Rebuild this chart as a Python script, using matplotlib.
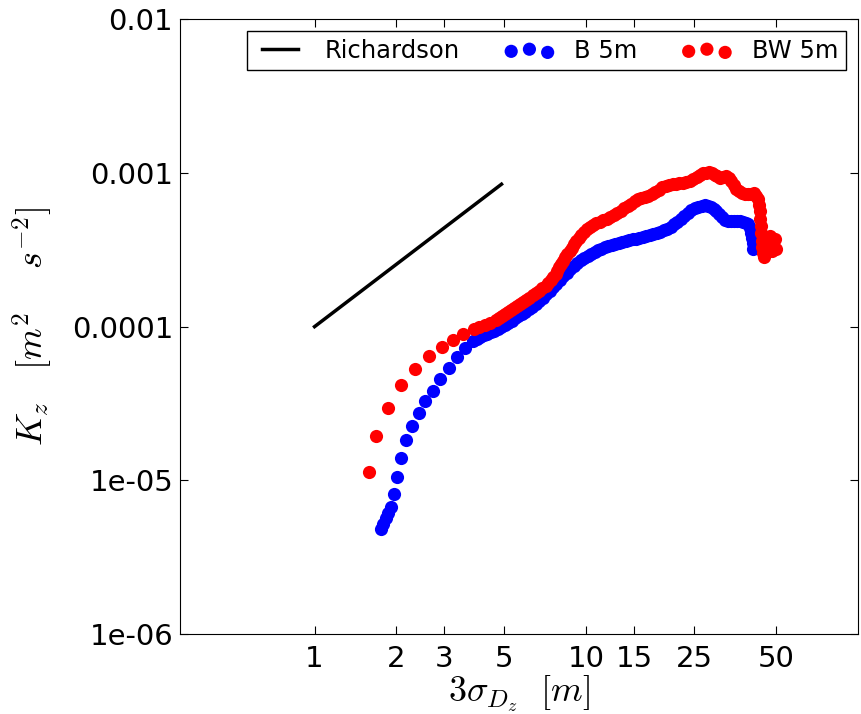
import matplotlib
matplotlib.use("Agg")
import matplotlib.pyplot as plt

# Richardson 4/3 law reference line
rich_x = [1.0, 4.88]
rich_y = [1.0e-4, 8.45e-4]

# B 5m
b_x = [1.752, 1.782, 1.827, 1.858, 1.905, 1.954, 2.016, 2.084, 2.179, 2.279,
       2.415, 2.561, 2.725, 2.904, 3.115, 3.339, 3.579, 3.840, 3.958, 4.082,
       4.204, 4.329, 4.459, 4.590, 4.727, 4.868, 5.012, 5.161, 5.314, 5.473,
       5.635, 5.803, 5.974, 6.154, 6.336, 6.525, 6.719, 6.918, 7.124, 7.336,
       7.554, 7.779, 8.010, 8.250, 8.494, 8.746, 9.005, 9.275, 9.550, 9.833,
       10.13, 10.43, 10.74, 11.05, 11.39, 11.72, 12.07, 12.43, 12.80, 13.18,
       13.57, 13.98, 14.40, 14.83, 15.26, 15.72, 16.18, 16.67, 17.16, 17.68,
       18.20, 18.74, 19.30, 19.88, 20.46, 21.07, 21.70, 22.35, 23.00, 23.69,
       24.40, 25.12, 25.87, 26.64, 27.32, 28.01, 28.72, 29.45, 30.20, 30.97,
       31.75, 32.56, 33.39, 34.23, 35.12, 36.01, 36.93, 37.86, 38.66, 39.48,
       39.97, 40.49, 40.75, 41.01, 41.18]
b_y = [4.81e-6, 5.18e-6, 5.66e-6, 6.11e-6, 6.68e-6, 8.11e-6, 1.05e-5, 1.40e-5, 1.82e-5, 2.25e-5,
       2.74e-5, 3.27e-5, 3.84e-5, 4.55e-5, 5.36e-5, 6.32e-5, 7.27e-5, 8.11e-5, 8.36e-5, 8.61e-5,
       8.81e-5, 9.01e-5, 9.21e-5, 9.42e-5, 9.66e-5, 9.93e-5, 1.02e-4, 1.05e-4, 1.09e-4, 1.13e-4,
       1.165e-4, 1.21e-4, 1.25e-4, 1.30e-4, 1.35e-4, 1.41e-4, 1.475e-4, 1.54e-4, 1.625e-4, 1.71e-4,
       1.80e-4, 1.90e-4, 2.01e-4, 2.13e-4, 2.25e-4, 2.38e-4, 2.49e-4, 2.60e-4, 2.70e-4, 2.81e-4,
       2.89e-4, 2.98e-4, 3.055e-4, 3.14e-4, 3.21e-4, 3.28e-4, 3.34e-4, 3.41e-4, 3.46e-4, 3.51e-4,
       3.56e-4, 3.62e-4, 3.66e-4, 3.70e-4, 3.74e-4, 3.78e-4, 3.82e-4, 3.87e-4, 3.93e-4, 3.99e-4,
       4.06e-4, 4.14e-4, 4.23e-4, 4.33e-4, 4.46e-4, 4.63e-4, 4.81e-4, 5.03e-4, 5.26e-4, 5.50e-4,
       5.71e-4, 5.88e-4, 6.02e-4, 6.11e-4, 6.15e-4, 6.11e-4, 6.02e-4, 5.84e-4, 5.62e-4, 5.42e-4,
       5.18e-4, 4.95e-4, 4.88e-4, 4.84e-4, 4.86e-4, 4.88e-4, 4.84e-4, 4.81e-4, 4.73e-4, 4.67e-4,
       4.39e-4, 4.08e-4, 3.78e-4, 3.51e-4, 3.21e-4]

# BW 5m
bw_x = [1.585, 1.690, 1.858, 2.084, 2.349, 2.640, 2.945, 3.237, 3.532, 3.859,
        4.031, 4.232, 4.440, 4.669, 4.786, 4.909, 5.032, 5.161, 5.291, 5.427,
        5.566, 5.706, 5.852, 5.999, 6.180, 6.363, 6.525, 6.690, 6.889, 7.096,
        7.244, 7.400, 7.554, 7.717, 7.845, 7.979, 8.111, 8.250, 8.387, 8.530,
        8.710, 8.872, 9.044, 9.196, 9.392, 9.590, 9.833, 10.08, 10.34, 10.61,
        10.92, 11.24, 11.58, 11.92, 12.28, 12.64, 13.02, 13.41, 13.80, 14.21,
        14.64, 15.08, 15.52, 15.98, 16.46, 16.95, 17.45, 17.97, 18.51, 19.05,
        19.62, 20.21, 20.81, 21.42, 22.06, 22.72, 23.39, 24.09, 24.80, 25.55,
        26.19, 26.86, 27.54, 28.24, 28.96, 29.70, 30.45, 31.22, 32.03, 32.84,
        33.53, 34.23, 34.96, 35.70, 36.61, 37.54, 38.50, 39.48, 40.49, 41.51,
        42.22, 42.93, 43.29, 43.65, 43.84, 44.02, 44.21, 44.39, 44.58, 44.76,
        45.14, 45.89, 46.68, 47.46, 48.68, 49.48, 49.90, 48.26]
bw_y = [1.13e-5, 1.93e-5, 2.96e-5, 4.17e-5, 5.34e-5, 6.41e-5, 7.34e-5, 8.24e-5, 9.01e-5, 9.64e-5,
        9.93e-5, 1.03e-4, 1.06e-4, 1.11e-4, 1.135e-4, 1.17e-4, 1.205e-4, 1.24e-4, 1.28e-4, 1.32e-4,
        1.37e-4, 1.41e-4, 1.45e-4, 1.50e-4, 1.54e-4, 1.60e-4, 1.66e-4, 1.71e-4, 1.78e-4, 1.85e-4,
        1.93e-4, 2.02e-4, 2.11e-4, 2.21e-4, 2.31e-4, 2.43e-4, 2.56e-4, 2.68e-4, 2.83e-4, 2.98e-4,
        3.11e-4, 3.27e-4, 3.43e-4, 3.62e-4, 3.78e-4, 3.96e-4, 4.14e-4, 4.33e-4, 4.46e-4, 4.60e-4,
        4.70e-4, 4.81e-4, 4.91e-4, 5.03e-4, 5.18e-4, 5.34e-4, 5.50e-4, 5.67e-4, 5.88e-4, 6.11e-4,
        6.29e-4, 6.53e-4, 6.73e-4, 6.89e-4, 6.99e-4, 7.10e-4, 7.31e-4, 7.53e-4, 7.76e-4, 8.05e-4,
        8.17e-4, 8.30e-4, 8.42e-4, 8.49e-4, 8.55e-4, 8.61e-4, 8.74e-4, 8.87e-4, 9.14e-4, 9.42e-4,
        9.71e-4, 9.93e-4, 1.00e-3, 1.01e-3, 9.93e-4, 9.71e-4, 9.49e-4, 9.29e-4, 9.42e-4, 9.57e-4,
        9.21e-4, 8.87e-4, 8.36e-4, 7.87e-4, 7.64e-4, 7.41e-4, 7.31e-4, 7.25e-4, 7.31e-4, 7.41e-4,
        7.09e-4, 6.78e-4, 6.20e-4, 5.67e-4, 5.03e-4, 4.53e-4, 4.08e-4, 3.62e-4, 3.31e-4, 3.03e-4,
        2.85e-4, 3.41e-4, 3.11e-4, 3.90e-4, 3.51e-4, 3.73e-4, 3.21e-4, 3.12e-4]

x_ticks = [1, 2, 3, 5, 10, 15, 25, 50]
y_ticks = [1e-6, 1e-5, 1e-4, 1e-3, 1e-2]
y_tick_labels = ['1e-06', '1e-05', '0.0001', '0.001', '0.01']

plt.rcParams['mathtext.fontset'] = 'cm'

fig = plt.figure(figsize=(8.62, 7.14), dpi=100)
ax = fig.add_axes([0.209, 0.112, 0.786, 0.861])

ax.plot(rich_x, rich_y, color='black', lw=2.5, label='Richardson')
ax.scatter(b_x, b_y, s=90, c='blue', linewidths=0, label='B 5m', zorder=3)
ax.scatter(bw_x, bw_y, s=90, c='red', linewidths=0, label='BW 5m', zorder=4)

ax.set_xscale('log')
ax.set_yscale('log')
ax.set_xlim(0.32, 100)
ax.set_ylim(1e-6, 1e-2)

ax.set_xticks(x_ticks)
ax.set_xticklabels([str(t) for t in x_ticks])
ax.set_yticks(y_ticks)
ax.set_yticklabels(y_tick_labels)
ax.minorticks_off()
ax.tick_params(which='both', direction='in', top=True, right=True,
               length=6, labelsize=21)
ax.tick_params(axis='y', pad=5)
ax.tick_params(axis='x', pad=8)

ax.set_xlabel(r'$3\sigma_{D_z}\ \ [m]$', fontsize=26, labelpad=0)
ax.set_ylabel(r'$K_z\ \ \ [m^2\ \ \ \ s^{-2}]$', fontsize=26, labelpad=12)

leg = ax.legend(loc='upper right', ncol=3, fontsize=17.5, scatterpoints=3,
                numpoints=2, fancybox=False, edgecolor='black', framealpha=1,
                handlelength=2.1, handletextpad=0.8, columnspacing=1.8,
                borderpad=0.3, borderaxespad=0.5)
leg.get_frame().set_linewidth(1.0)

plt.savefig('out.png', dpi=100)
